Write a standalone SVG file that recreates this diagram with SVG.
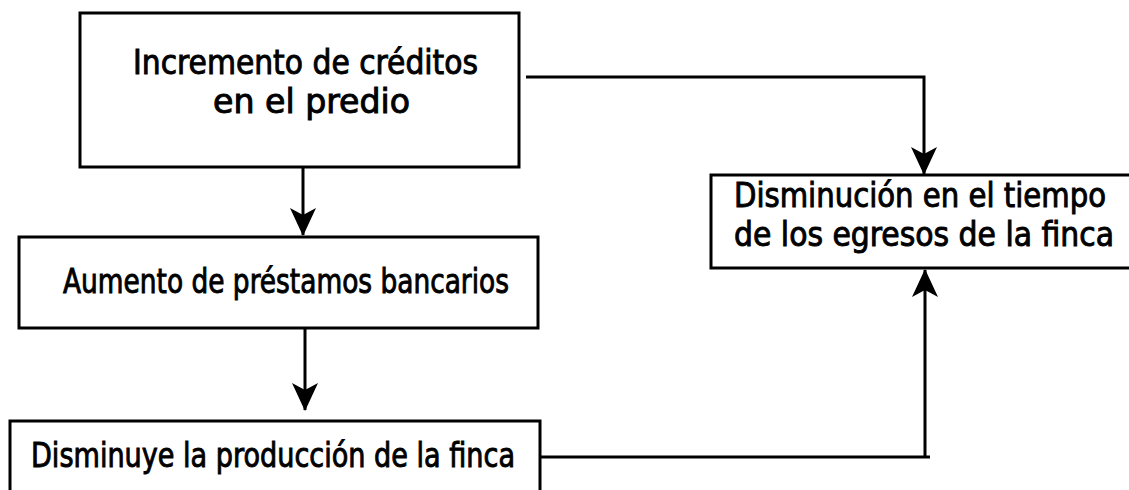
<svg xmlns="http://www.w3.org/2000/svg" width="1129" height="490" viewBox="0 0 1129 490">
<defs>
<marker id="ah" viewBox="0 0 28 28" refX="27" refY="14" markerWidth="28" markerHeight="28" markerUnits="userSpaceOnUse" orient="auto">
<path d="M0,1 L7,14 L0,27 L28,14 Z" fill="#000"/>
</marker>
<style>
.box{fill:#fff;stroke:#000;stroke-width:3}
.t{font-family:"DejaVu Sans Condensed","DejaVu Sans",sans-serif;font-size:34px;fill:#000;stroke:#000;stroke-width:0.9}
.c{fill:none;stroke:#000;stroke-width:3}
</style>
</defs>
<rect width="1129" height="490" fill="#fff"/>
<g id="connectors">
<path class="c" d="M303,156 V235" marker-end="url(#ah)"/>
<path class="c" d="M305,329 V410" marker-end="url(#ah)"/>
<path class="c" d="M526,77 H924 V174" marker-end="url(#ah)"/>
<path class="c" d="M541,457 H930 M925,457 V270" marker-end="url(#ah)"/>
</g>
<g id="n1">
<rect class="box" x="80" y="13" width="439" height="154"/>
<text class="t" x="133" y="74" textLength="345" lengthAdjust="spacingAndGlyphs">Incremento de créditos</text>
<text class="t" x="213" y="113" textLength="197" lengthAdjust="spacingAndGlyphs">en el  predio</text>
</g>
<g id="n2">
<rect class="box" x="19" y="237" width="519" height="91"/>
<text class="t" x="63" y="293" textLength="446" lengthAdjust="spacingAndGlyphs">Aumento de préstamos bancarios</text>
</g>
<g id="n3">
<rect class="box" x="10" y="421" width="530" height="80"/>
<text class="t" x="31" y="467" textLength="484" lengthAdjust="spacingAndGlyphs">Disminuye la producción de la finca</text>
</g>
<g id="n4">
<rect class="box" x="711" y="175" width="430" height="93"/>
<text class="t" x="734" y="207" textLength="372" lengthAdjust="spacingAndGlyphs">Disminución en el tiempo</text>
<text class="t" x="734" y="246" textLength="380" lengthAdjust="spacingAndGlyphs">de los egresos de la finca</text>
</g>
</svg>
